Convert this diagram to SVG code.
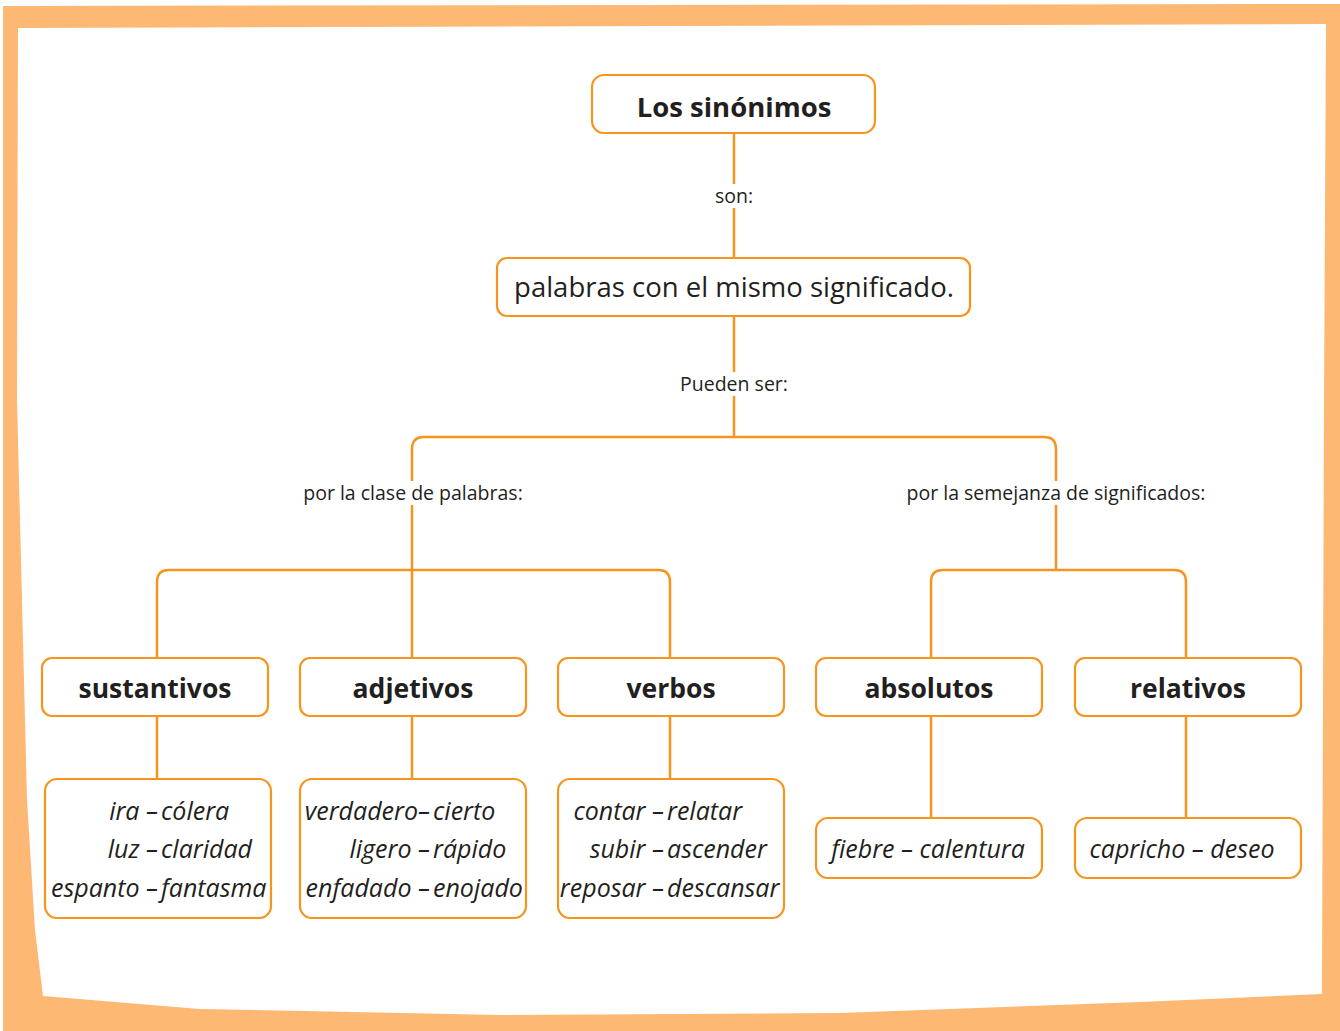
<svg xmlns="http://www.w3.org/2000/svg" width="1340" height="1031" viewBox="0 0 1340 1031">
<style>
.node{fill:#fff;stroke:#F7941D;stroke-width:2.2}
.conn{fill:none;stroke:#F7941D;stroke-width:2.5}
.t{font-family:"Open Sans","Noto Sans",sans-serif;fill:#231F20}
.b{font-weight:bold;font-size:26.5px;text-anchor:middle}
.lab{font-size:19.5px;text-anchor:middle}
.ex{font-style:italic;font-size:25px}
.lbg{fill:#fff}
</style>
<rect width="1340" height="1031" fill="#fff"/>
<polygon points="3,6 1340,4 1340,1031 3,1031" fill="#FDB874"/>
<polygon points="18,28 1326,24 1324,400 1322,994 1140,1002 840,1013 500,1015 200,1009 43,996 35,930 27,800 17,400" fill="#fff"/>

<g id="connectors">
<path class="conn" d="M734,133 V258"/>
<path class="conn" d="M734,316 V437"/>
<path class="conn" d="M412,658 V449 Q412,437 424,437 H1044 Q1056,437 1056,449 V570"/>
<path class="conn" d="M157,658 V582 Q157,570 169,570 H658 Q670,570 670,582 V658"/>
<path class="conn" d="M931,658 V582 Q931,570 943,570 H1174 Q1186,570 1186,582 V658"/>
<path class="conn" d="M157,716 V779 M412,716 V779 M670,716 V779 M931,716 V818 M1186,716 V818"/>
<rect class="lbg" x="710" y="184" width="48" height="24"/>
<text class="t lab" x="734" y="203">son:</text>
<rect class="lbg" x="674" y="372" width="120" height="24"/>
<text class="t lab" x="734" y="391">Pueden ser:</text>
<rect class="lbg" x="296" y="481" width="234" height="24"/>
<text class="t lab" x="413" y="500">por la clase de palabras:</text>
<rect class="lbg" x="896" y="481" width="320" height="24"/>
<text class="t lab" x="1056" y="500">por la semejanza de significados:</text>
</g>

<g id="n-titulo">
<rect class="node" x="592" y="75" width="283" height="58" rx="12"/>
<text class="t b" x="734" y="117" style="font-size:27.5px">Los sinónimos</text>
</g>
<g id="n-palabras">
<rect class="node" x="497" y="258" width="473" height="58" rx="10"/>
<text class="t" x="734" y="297" style="font-size:27.5px;text-anchor:middle">palabras con el mismo significado.</text>
</g>

<g id="n-sustantivos">
<rect class="node" x="42" y="658" width="226" height="58" rx="10"/>
<text class="t b" x="155" y="698">sustantivos</text>
</g>
<g id="n-adjetivos">
<rect class="node" x="300" y="658" width="226" height="58" rx="10"/>
<text class="t b" x="413" y="698">adjetivos</text>
</g>
<g id="n-verbos">
<rect class="node" x="558" y="658" width="226" height="58" rx="10"/>
<text class="t b" x="671" y="698">verbos</text>
</g>
<g id="n-absolutos">
<rect class="node" x="816" y="658" width="226" height="58" rx="10"/>
<text class="t b" x="929" y="698">absolutos</text>
</g>
<g id="n-relativos">
<rect class="node" x="1075" y="658" width="226" height="58" rx="10"/>
<text class="t b" x="1188" y="698">relativos</text>
</g>

<g id="e-sustantivos">
<rect class="node" x="45" y="779" width="226" height="139" rx="12"/>
<text class="t ex" x="158" y="820" text-anchor="end">ira –</text>
<text class="t ex" x="161" y="820">cólera</text>
<text class="t ex" x="158" y="858" text-anchor="end">luz –</text>
<text class="t ex" x="161" y="858">claridad</text>
<text class="t ex" x="158" y="897" text-anchor="end">espanto –</text>
<text class="t ex" x="161" y="897">fantasma</text>
</g>
<g id="e-adjetivos">
<rect class="node" x="300" y="779" width="226" height="139" rx="12"/>
<text class="t ex" x="430" y="820" text-anchor="end">verdadero–</text>
<text class="t ex" x="433" y="820">cierto</text>
<text class="t ex" x="430" y="858" text-anchor="end">ligero –</text>
<text class="t ex" x="433" y="858">rápido</text>
<text class="t ex" x="430" y="897" text-anchor="end">enfadado –</text>
<text class="t ex" x="433" y="897">enojado</text>
</g>
<g id="e-verbos">
<rect class="node" x="558" y="779" width="226" height="139" rx="12"/>
<text class="t ex" x="664" y="820" text-anchor="end">contar –</text>
<text class="t ex" x="667" y="820">relatar</text>
<text class="t ex" x="664" y="858" text-anchor="end">subir –</text>
<text class="t ex" x="667" y="858">ascender</text>
<text class="t ex" x="664" y="897" text-anchor="end">reposar –</text>
<text class="t ex" x="667" y="897">descansar</text>
</g>
<g id="e-absolutos">
<rect class="node" x="816" y="818" width="226" height="60" rx="12"/>
<text class="t ex" x="928" y="858" text-anchor="middle">fiebre – calentura</text>
</g>
<g id="e-relativos">
<rect class="node" x="1075" y="818" width="226" height="60" rx="12"/>
<text class="t ex" x="1182" y="858" text-anchor="middle">capricho – deseo</text>
</g>
</svg>
